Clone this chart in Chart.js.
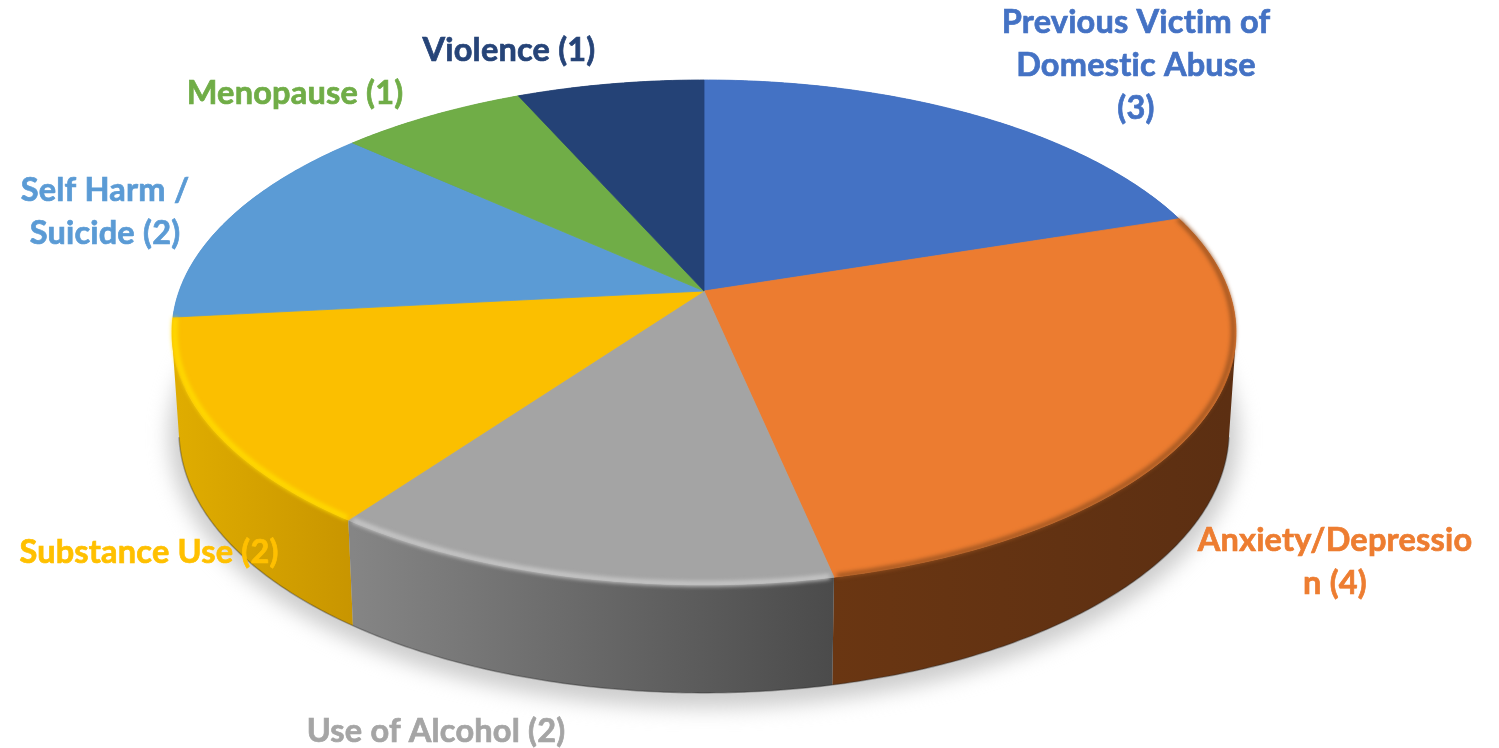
<!DOCTYPE html>
<html>
<head>
<meta charset="utf-8">
<title>Pie</title>
<script src="https://cdn.jsdelivr.net/npm/chart.js@4"></script>
<style>
    html, body { margin: 0; padding: 0; background: #ffffff; }
    canvas { display: block; }
</style>
</head>
<body>
<canvas id="pieChart" width="1499" height="748"></canvas>
<script>
/* ===============================
   Data
=============================== */

const categories = [
    "Previous Victim of Domestic Abuse",
    "Anxiety/Depression",
    "Use of Alcohol",
    "Substance Use",
    "Self Harm / Suicide",
    "Menopause",
    "Violence"
];
const counts = [3, 4, 2, 2, 2, 1, 1];

const faceColours = ["#4472c4", "#ec7c30", "#a4a4a4", "#fbbf00", "#5b9bd5", "#70ad47", "#244276"];
const labelColours = ["#4472c4", "#ed7d31", "#a5a5a5", "#ffc000", "#5b9bd5", "#70ad47", "#264478"];
const labelLines = [
    ["Previous Victim of", "Domestic Abuse", "(3)"],
    ["Anxiety/Depressio", "n (4)"],
    ["Use of Alcohol (2)"],
    ["Substance Use (2)"],
    ["Self Harm /", "Suicide (2)"],
    ["Menopause (1)"],
    ["Violence (1)"]
];
const labelX = [1136, 1335, 436, 149, 105, 295, 509];
const labelY = [23, 541, 732, 553, 191, 94, 51];

// wall colours, left and right end of each slice side
const wallLeft = ["#2f5597", "#6a3612", "#858585", "#dfac00", "#3f78ad", "#4e7a31", "#1a2f55"];
const wallRight = ["#2f5597", "#5c2f12", "#4b4b4b", "#c89500", "#3f78ad", "#4e7a31", "#1a2f55"];
const rimColours = [null, "#94501f", "#c9c9c9", "#ffdc00", null, null, null];

/* ===============================
   Tilted disc projection
=============================== */

const CX = 704, APEX_Y = 291, RADIUS = 524.8, TILT_Y = 197.9, PERSP = -0.164;

function topPoint(a) {
    const u = Math.cos(a), v = Math.sin(a), w = 1 + PERSP * v;
    return [CX + RADIUS * u / w, (APEX_Y + TILT_Y * v) / w];
}

function bottomPoint(a) {
    const p = topPoint(a);
    return [CX + (p[0] - CX) * 0.987, 431 + (p[1] - 332.5) * 1.038];
}

function steps(start, end) {
    const list = [];
    const n = Math.max(2, Math.ceil((end - start) / 0.01));
    for (let i = 0; i <= n; i++) list.push(start + (end - start) * i / n);
    return list;
}

// adds one wall quad to the path, always wound the same way
function addQuad(ctx, pts) {
    let area = 0;
    pts.forEach(function (p, i) {
        const q = pts[(i + 1) % pts.length];
        area += p[0] * q[1] - q[0] * p[1];
    });
    const ordered = area < 0 ? pts.slice().reverse() : pts;
    ctx.moveTo(ordered[0][0], ordered[0][1]);
    ordered.slice(1).forEach(function (p) { ctx.lineTo(p[0], p[1]); });
    ctx.closePath();
}

/* ===============================
   Plugin drawing the 3D pie from the arc elements
=============================== */

const disc3d = {
    id: "disc3d",

    beforeDatasetDraw(chart, args) {
        const ctx = chart.ctx;
        const arcs = args.meta.data;

        // soft shadow under the disc
        ctx.save();
        ctx.filter = "blur(10px)";
        ctx.fillStyle = "#cdcdcd";
        ctx.beginPath();
        ctx.ellipse(CX, 436, 535, 272, 0, 0, Math.PI * 2);
        ctx.fill();
        ctx.restore();

        // side wall, far slices first
        const order = arcs.map(function (arc, i) { return i; });
        order.sort(function (p, q) {
            return Math.sin((arcs[p].startAngle + arcs[p].endAngle) / 2) -
                Math.sin((arcs[q].startAngle + arcs[q].endAngle) / 2);
        });
        order.forEach(function (i) {
            const list = steps(arcs[i].startAngle, arcs[i].endAngle);
            const xs = list.map(function (a) { return bottomPoint(a)[0]; });
            const grad = ctx.createLinearGradient(Math.min.apply(null, xs), 0, Math.max.apply(null, xs) + 1, 0);
            grad.addColorStop(0, wallLeft[i]);
            grad.addColorStop(1, wallRight[i]);
            ctx.fillStyle = grad;
            ctx.beginPath();
            for (let j = 0; j < list.length - 1; j++) {
                addQuad(ctx, [topPoint(list[j]), topPoint(list[j + 1]), bottomPoint(list[j + 1]), bottomPoint(list[j])]);
            }
            ctx.fill();
        });

        // dark line along the bottom edge
        ctx.strokeStyle = "rgba(40,40,40,0.35)";
        ctx.lineWidth = 1.5;
        ctx.beginPath();
        steps(Math.PI * 0.06, Math.PI * 0.94).forEach(function (a, j) {
            const p = bottomPoint(a);
            if (j === 0) ctx.moveTo(p[0], p[1]); else ctx.lineTo(p[0], p[1]);
        });
        ctx.stroke();

        // top faces
        arcs.forEach(function (arc, i) {
            ctx.fillStyle = faceColours[i];
            ctx.strokeStyle = faceColours[i];
            ctx.lineWidth = 0.8;
            ctx.beginPath();
            ctx.moveTo(CX, APEX_Y);
            steps(arc.startAngle, arc.endAngle).forEach(function (a) {
                const p = topPoint(a);
                ctx.lineTo(p[0], p[1]);
            });
            ctx.closePath();
            ctx.fill();
            ctx.stroke();
        });

        // bevel highlight on the front rim
        arcs.forEach(function (arc, i) {
            if (!rimColours[i]) return;
            ctx.save();
            ctx.filter = "blur(2.2px)";
            ctx.strokeStyle = rimColours[i];
            ctx.lineWidth = i === 1 ? 4 : 5;
            ctx.beginPath();
            steps(arc.startAngle + 0.006, arc.endAngle - 0.006).forEach(function (a, j) {
                const p = topPoint(a);
                const x = CX + (p[0] - CX) * 0.995, y = p[1] - 1;
                if (j === 0) ctx.moveTo(x, y); else ctx.lineTo(x, y);
            });
            ctx.stroke();
            ctx.restore();
        });

        return false;
    },

    afterDatasetsDraw(chart) {
        const ctx = chart.ctx;
        ctx.save();
        ctx.font = "bold 32.5px Lato";
        ctx.letterSpacing = "0.2px";
        ctx.textAlign = "center";
        ctx.textBaseline = "middle";
        ctx.lineWidth = 0.7;
        labelLines.forEach(function (lines, i) {
            ctx.fillStyle = labelColours[i];
            ctx.strokeStyle = labelColours[i];
            lines.forEach(function (line, j) {
                ctx.fillText(line, labelX[i], labelY[i] + j * 43);
                ctx.strokeText(line, labelX[i], labelY[i] + j * 43);
            });
        });
        ctx.restore();
    }
};

/* ===============================
   Chart
=============================== */

new Chart(document.getElementById("pieChart"), {
    type: "pie",
    data: {
        labels: categories,
        datasets: [
            {
                data: counts,
                backgroundColor: faceColours
            }
        ]
    },
    options: {
        responsive: false,
        devicePixelRatio: 1,
        animation: false,
        plugins: {
            legend: { display: false },
            tooltip: { enabled: false }
        }
    },
    plugins: [disc3d]
});
</script>
</body>
</html>
